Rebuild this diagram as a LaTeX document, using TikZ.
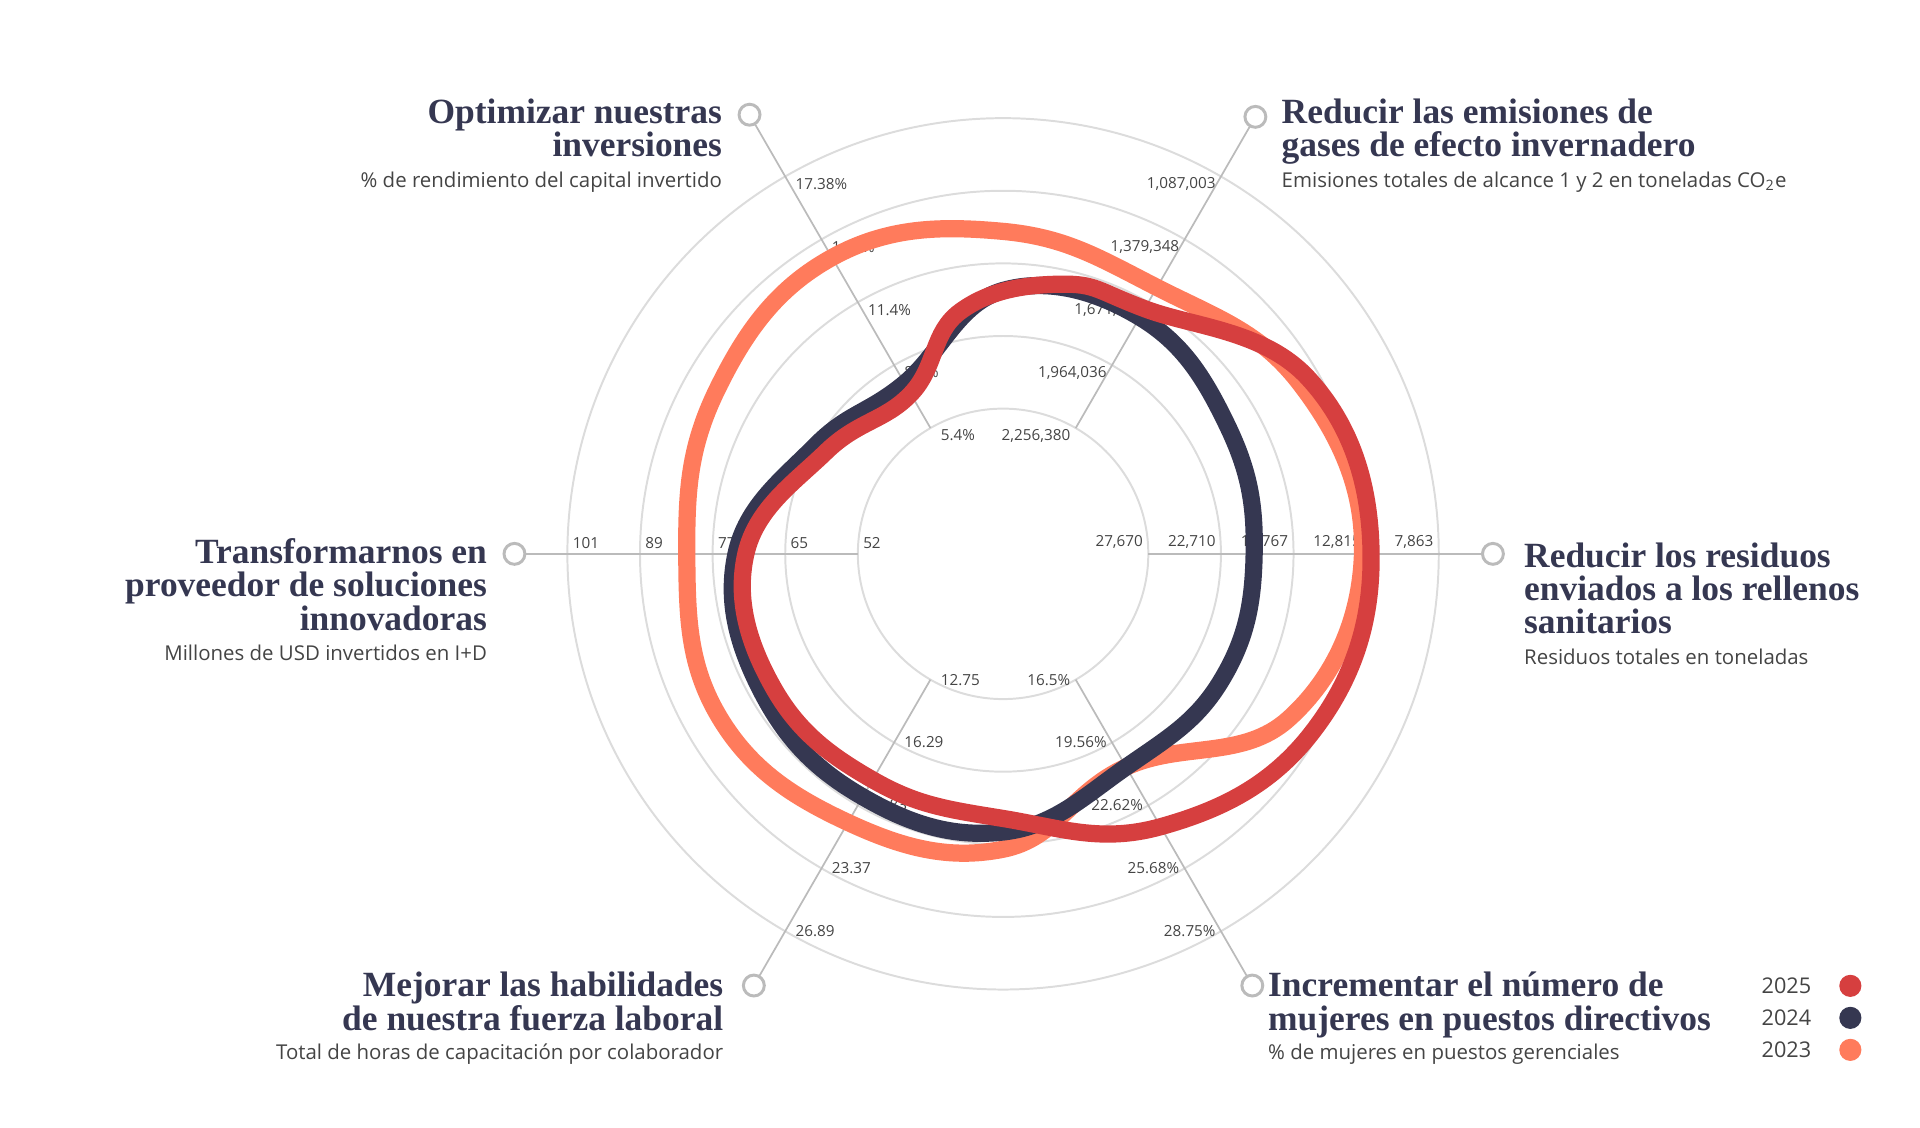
\documentclass[tikz,border=0pt]{standalone}
\usepackage{fontspec}
\setmainfont{Liberation Serif}
\setsansfont{Open Sans}
\usetikzlibrary{positioning}
\definecolor{navy}{HTML}{353751}
\definecolor{red25}{HTML}{D63F3F}
\definecolor{orange23}{HTML}{FF7B5C}
\definecolor{ringgray}{HTML}{DCDCDC}
\definecolor{axisgray}{HTML}{BBBBBB}
\definecolor{labelgray}{HTML}{444444}

\begin{document}
\begin{tikzpicture}[
  x=0.5pt, y=-0.5pt,
  ring/.style={draw=ringgray, line width=0.8pt},
  axisline/.style={draw=axisgray, line width=0.7pt},
  endmark/.style={circle, draw=axisgray, line width=1.2pt, fill=white, minimum size=8.5pt, inner sep=0pt},
  ticklabel/.style={font=\sffamily\fontsize{6.2}{7}\selectfont, text=labelgray, inner sep=1pt},
  title/.style={font=\bfseries\fontsize{14.4}{13.5}\selectfont, text=navy, inner sep=0pt},
  subtitle/.style={font=\sffamily\fontsize{8.3}{9}\selectfont, text=labelgray, inner sep=0pt},
  series/.style={line width=7pt, line join=round}
]
\useasboundingbox (0,0) rectangle (1560,915.7);
\coordinate (c) at (815,450);

% rings
\foreach \r in {118,177,236,295,354}
  \draw[ring] (c) circle[radius=\r];

% axes
\begin{scope}[shift={(815,450)}, yscale=-1]
  \foreach \a/\R/\n in {0/398/er, 60/410/eur, 120/412/eul, 180/397/el, 240/405/ell, 300/405/elr}{
    \draw[axisline] (\a:118) -- (\a:\R);
    \node[endmark] (\n) at (\a:\R) {};
  }
  % tick labels
  \foreach \t [count=\i from 0] in {5.4\%, 8.4\%, 11.4\%, 14.4\%, 17.38\%}
    \node[ticklabel, anchor=west, xshift=3pt, yshift=-3pt] (tul\i) at (120:118+59*\i) {\t};
  \foreach \t [count=\i from 0] in {{2,256,380}, {1,964,036}, {1,671,692}, {1,379,348}, {1,087,003}}
    \node[ticklabel, anchor=east, xshift=-1pt, yshift=-3pt] (tur\i) at (60:118+59*\i) {\t};
  \foreach \t [count=\i from 0] in {{27,670}, {22,710}, {17,767}, {12,815}, {7,863}}
    \node[ticklabel, anchor=south east, xshift=-1pt, yshift=1pt] (tr\i) at (0:118+59*\i) {\t};
  \foreach \t [count=\i from 0] in {52, 65, 77, 89, 101}
    \node[ticklabel, anchor=south west, xshift=1pt, yshift=1pt] (tl\i) at (180:118+59*\i) {\t};
  \foreach \t [count=\i from 0] in {12.75, 16.29, 19.83, 23.37, 26.89}
    \node[ticklabel, anchor=west, xshift=3pt] (tll\i) at (240:118+59*\i) {\t};
  \foreach \t [count=\i from 0] in {16.5\%, 19.56\%, 22.62\%, 25.68\%, 28.75\%}
    \node[ticklabel, anchor=east, xshift=-1pt] (tlr\i) at (300:118+59*\i) {\t};

  % series
  \draw[series, orange23] plot[smooth cycle, tension=0.7] coordinates {
    (0:292) (30:278) (60:250) (90:262) (120:278) (150:268) (180:257) (210:266) (240:252) (270:240) (300:200) (330:268)};
  \draw[series, navy] plot[smooth cycle, tension=0.7] coordinates {
    (0:204) (30:210) (60:222) (90:214) (120:160) (150:176) (180:217) (210:226) (240:228) (270:226) (300:200) (330:205)};
  \draw[series, red25] plot[smooth cycle, tension=0.7] coordinates {
    (0:299) (30:286) (60:230) (78:224) (100:200) (120:150) (150:166) (180:209) (210:216) (240:212) (270:215) (300:256) (330:290)};
\end{scope}

% titles (anchored at the baseline of their last line)
\node[title, anchor=base east, align=right] (tinv) at (587,127) {Optimizar nuestras\\inversiones};
\node[subtitle, anchor=base east] (sinv) at (587,152) {\% de rendimiento del capital invertido};
\node[title, anchor=base west, align=left] (temi) at (1041,127) {Reducir las emisiones de\\gases de efecto invernadero};
\node[subtitle, anchor=base west] (semi) at (1041,152) {Emisiones totales de alcance 1 y 2 en toneladas CO\textsubscript{2}e};
\node[title, anchor=base west, align=left] (tres) at (1238,515) {Reducir los residuos\\enviados a los rellenos\\sanitarios};
\node[subtitle, anchor=base west] (sres) at (1238,540) {Residuos totales en toneladas};
\node[title, anchor=base east, align=right] (tinn) at (396,512) {Transformarnos en\\proveedor de soluciones\\innovadoras};
\node[subtitle, anchor=base east] (sinn) at (396,537) {Millones de USD invertidos en I+D};
\node[title, anchor=base east, align=right] (thab) at (588,837) {Mejorar las habilidades\\de nuestra fuerza laboral};
\node[subtitle, anchor=base east] (shab) at (588,861) {Total de horas de capacitación por colaborador};
\node[title, anchor=base west, align=left] (tmuj) at (1030,837) {Incrementar el número de\\mujeres en puestos directivos};
\node[subtitle, anchor=base west] (smuj) at (1030,861) {\% de mujeres en puestos gerenciales};

% legend
\foreach \y/\yr/\col in {801/2025/red25, 827/2024/navy, 853/2023/orange23}{
  \node[font=\sffamily\fontsize{8.8}{10}\selectfont, text=labelgray, anchor=east, inner sep=0pt] (ly\yr) at (1472,\y) {\yr};
  \node[circle, fill=\col, minimum size=9pt, inner sep=0pt, right=11pt of ly\yr] (ld\yr) {};
}
\end{tikzpicture}
\end{document}
